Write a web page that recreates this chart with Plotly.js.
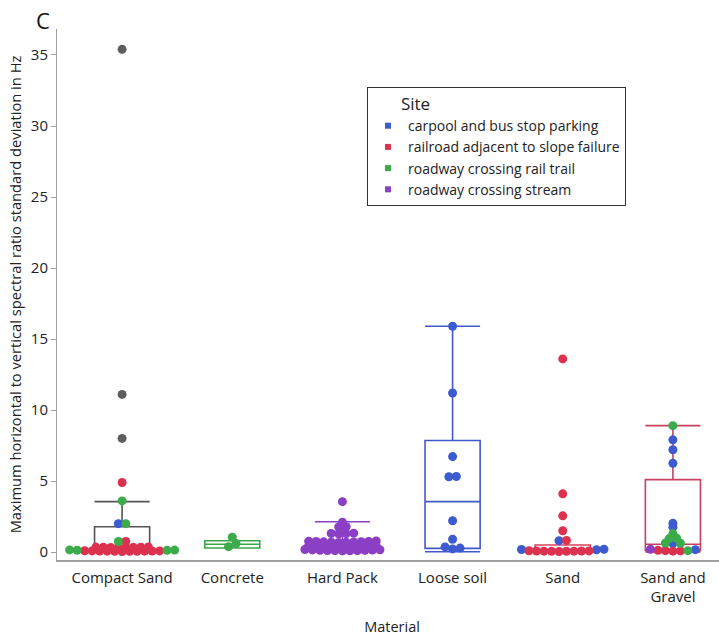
<!DOCTYPE html>
<html><head><meta charset="utf-8">
<script src="https://cdn.plot.ly/plotly-3.0.1.min.js"></script>
<style>html,body{margin:0;padding:0;overflow:hidden;background:#fff}#chart{width:740px;height:638px}</style>
</head><body><div id="chart"></div>
<script>
// ---- data ----
const materials = ["Compact Sand","Concrete","Hard Pack","Loose soil","Sand","Sand and Gravel"];
const materialTickLabels = ["Compact Sand","Concrete","Hard Pack","Loose soil","Sand","Sand and<br>Gravel"];
const sites = ["carpool and bus stop parking","railroad adjacent to slope failure","roadway crossing rail trail","roadway crossing stream"];

// values per material (same order as materials)
const carpoolValues = [
  [2.0], [], [],
  [15.9, 11.2, 6.72, 5.32, 5.3, 2.2, 0.9, 0.36, 0.28, 0.22],
  [0.8, 0.16, 0.18, 0.2],
  [7.9, 7.2, 6.25, 2.02, 1.75, 0.6, 0.17]
];
const railroadValues = [
  [4.9, 0.75, 0.05, 0.06, 0.04, 0.07, 0.05, 0.08, 0.06, 0.09, 0.07, 0.05, 0.08,
   0.32, 0.34, 0.31, 0.35, 0.33, 0.36, 0.32, 0.34],
  [], [], [],
  [13.6, 4.1, 2.55, 1.5, 0.82, 0.05, 0.07, 0.04, 0.06, 0.08, 0.05, 0.09, 0.06, 0.07],
  [0.06, 0.08, 0.1, 0.12]
];
const railTrailValues = [
  [3.6, 2.0, 0.74, 0.12, 0.14, 0.13, 0.15],
  [1.05, 0.6, 0.38],
  [], [], [],
  [8.9, 1.3, 0.98, 0.95, 0.64, 0.62, 0.1]
];
const streamValues = [
  [], [],
  [0.12, 0.08, 0.15, 0.1, 0.18, 0.09, 0.14, 0.11, 0.16, 0.13, 0.1,
   0.42, 0.45, 0.4, 0.44, 0.41, 0.46, 0.43, 0.4, 0.45, 0.42,
   0.72, 0.68, 0.75, 0.7, 0.78, 0.73, 0.69, 0.76, 0.71, 0.74,
   1.3, 1.28, 1.33, 1.31, 1.78, 1.76, 2.1, 3.55],
  [], [],
  [0.2]
];
const unassignedValues = [[35.4, 11.1, 8.0], [], [], [], [], []];

// box statistics per material
const boxQ1     = [0.08, 0.28, 0.10, 0.26, 0.08, 0.12];
const boxMedian = [0.12, 0.55, 0.72, 3.55, 0.15, 0.55];
const boxQ3     = [1.78, 0.80, 0.78, 7.85, 0.50, 5.10];
const boxLower  = [0.02, 0.28, 0.02, 0.02, 0.02, 0.00];
const boxUpper  = [3.55, 0.80, 2.13, 15.9, 0.50, 8.90];

// ---- styles / layout ----
const siteColors = ['#3d5bd0', '#dc3250', '#3cab4b', '#8b3fc4', '#5e5e5e'];
const boxColors = ['#555555', '#3aa64a', '#8b3fc4', '#4257c8', '#d8405a', '#c8415f'];
const W = 740, H = 638;
const M = {l: 57, r: 13, t: 29, b: 78};
const xRange = [-0.591, 5.491];
const yRange = [-0.56, 36.83];
const pxPerX = (W - M.l - M.r) / (xRange[1] - xRange[0]);
const D = 7.5, rowTol = 0.25;
const font = '"Open Sans", "Noto Sans", sans-serif';

// ---- beeswarm layout (rows centred on each category) ----
const siteValues = [carpoolValues, railroadValues, railTrailValues, streamValues, unassignedValues];
const px = siteValues.map(() => []), py = siteValues.map(() => []);
materials.forEach((m, mi) => {
  const pts = [];
  siteValues.forEach((vals, si) => vals[mi].forEach(v => pts.push({v, si})));
  pts.sort((a, b) => a.v - b.v);
  let i = 0;
  while (i < pts.length) {
    let j = i;
    while (j < pts.length && pts[j].v - pts[i].v <= rowTol) j++;
    const group = pts.slice(i, j);
    const slots = group.map((p, k) => k === 0 ? 0 : (k % 2 ? (k + 1) / 2 : -k / 2));
    const shift = -(Math.max(...slots) + Math.min(...slots)) / 2;
    group.forEach((p, k) => {
      px[p.si].push(mi + (slots[k] + shift) * D / pxPerX);
      py[p.si].push(p.v);
    });
    i = j;
  }
});

const traces = [];
materials.forEach((m, mi) => {
  traces.push({
    type: 'box', name: m, x: [mi],
    q1: [boxQ1[mi]], median: [boxMedian[mi]], q3: [boxQ3[mi]],
    lowerfence: [boxLower[mi]], upperfence: [boxUpper[mi]],
    width: 0.5, whiskerwidth: 1, boxpoints: false,
    line: {color: boxColors[mi], width: 1.6},
    fillcolor: 'rgba(0,0,0,0)', showlegend: false
  });
});
siteValues.forEach((vals, si) => {
  traces.push({
    type: 'scatter', mode: 'markers', name: si < sites.length ? sites[si] : 'unassigned',
    x: px[si], y: py[si],
    marker: {color: siteColors[si], size: 9, line: {width: 0}},
    showlegend: false
  });
});
sites.forEach((s, si) => {
  traces.push({
    type: 'scatter', mode: 'markers', name: s, x: [null], y: [null],
    marker: {color: siteColors[si], size: 6, symbol: 'square'},
    showlegend: true
  });
});

const layout = {
  width: W, height: H,
  margin: M,
  paper_bgcolor: '#fff', plot_bgcolor: '#fff',
  font: {family: font, color: '#222', size: 14},
  hovermode: false,
  boxmode: 'overlay',
  showlegend: true,
  xaxis: {
    range: xRange, tickmode: 'array', tickvals: materials.map((m, i) => i), ticktext: materialTickLabels,
    showgrid: false, zeroline: false, showline: true, linecolor: '#a0a0a0', linewidth: 1.5,
    ticks: '', tickfont: {size: 15, color: '#222'}, ticklabelstandoff: 3,
    title: {text: 'Material', font: {size: 14.5, color: '#222'}, standoff: 17}
  },
  yaxis: {
    range: yRange, tickvals: [0, 5, 10, 15, 20, 25, 30, 35],
    showgrid: false, zeroline: false, showline: true, linecolor: '#a0a0a0', linewidth: 1,
    ticks: 'outside', ticklen: 5, tickcolor: '#a0a0a0', tickfont: {size: 15, color: '#222'},
    title: {text: 'Maximum horizontal to vertical spectral ratio standard deviation in Hz', font: {size: 14.7, color: '#222'}, standoff: 5}
  },
  legend: {
    x: (367 - M.l) / (W - M.l - M.r), y: (H - M.b - 87) / (H - M.t - M.b),
    xanchor: 'left', yanchor: 'top',
    bordercolor: '#333', borderwidth: 1, bgcolor: '#fff',
    font: {size: 14, color: '#222'}, itemwidth: 30,
    title: {text: '\u00a0\u00a0\u00a0\u00a0\u00a0\u00a0\u00a0Site', font: {size: 17, color: '#222'}}
  },
  annotations: [{
    text: 'C', xref: 'paper', yref: 'paper',
    x: (34 - M.l) / (W - M.l - M.r), y: (H - M.b - 20) / (H - M.t - M.b),
    xanchor: 'left', yanchor: 'middle', showarrow: false,
    font: {size: 22, color: '#111'}
  }]
};

Plotly.newPlot('chart', traces, layout, {displayModeBar: false, staticPlot: true});
</script>
</body></html>
